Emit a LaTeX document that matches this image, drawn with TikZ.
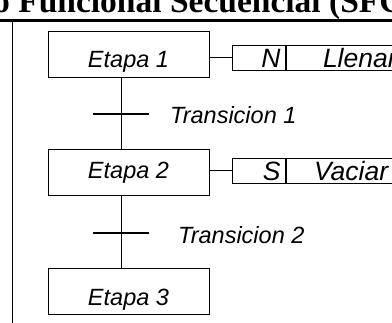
\documentclass[tikz,border=0pt]{standalone}
\usepackage{fontspec}
\setmainfont{Liberation Sans}
\newfontfamily\titlefont{Liberation Serif}
\begin{document}
\begin{tikzpicture}[x=1pt,y=-1pt,
  stepbox/.style={draw,line width=1pt,minimum width=161pt,minimum height=46pt,inner sep=0pt,font=\fontsize{23.5}{27}\selectfont\itshape},
  lowtext/.style={text height=#1,text depth=0pt},
  qualbox/.style={draw,line width=1pt,minimum width=53pt,minimum height=25pt,inner sep=0pt,font=\fontsize{26.5}{28}\selectfont\itshape},
  actbox/.style={draw,line width=1pt,minimum width=150pt,minimum height=25pt,inner sep=0pt,font=\fontsize{26.5}{28}\selectfont\itshape},
  link/.style={line width=1pt},
  bar/.style={line width=1.8pt},
  translabel/.style={anchor=west,inner sep=0pt,font=\fontsize{23.5}{26}\selectfont\itshape}]
\useasboundingbox (0,0) rectangle (392,323);
\clip (0,0) rectangle (392,323);
% title
\node[anchor=base west,inner sep=0pt,font=\fontsize{33.5}{37}\selectfont\titlefont\bfseries] (title) at (-7,12.5) {o Funcional Secuencial (SFC};
\draw[line width=3pt] (0,20.5) -- (392,20.5);
\draw[line width=1.2pt] (12.5,21) -- (12.5,323);
% steps
\node[stepbox,lowtext=26.8pt] (s1) at (128.5,54.5) {Etapa 1};
\node[stepbox] (s2) at (128.5,172.5) {Etapa 2};
\node[stepbox,lowtext=29pt] (s3) at (128.5,291.5) {Etapa 3};
% transitions
\coordinate (t1) at (121,114);
\coordinate (t2) at (121,233);
\draw[link] (s1.south -| t1) -- (s2.north -| t1);
\draw[link] (s2.south -| t2) -- (s3.north -| t2);
\draw[bar] ([xshift=-28pt]t1) -- ([xshift=28pt]t1);
\draw[bar] ([xshift=-28pt]t2) -- ([xshift=28pt]t2);
\node[translabel] (l1) at (170,115) {Transicion 1};
\node[translabel] (l2) at (178,235) {Transicion 2};
% actions
\node[qualbox,text width=44pt,align=right] (q1) at (258.5,58) {N\hspace*{8pt}};
\node[actbox,anchor=west,text width=144pt,align=left] (a1) at (q1.east) {\hspace*{34pt}Llenar};
\node[qualbox,text width=44pt,align=right] (q2) at (258.5,171) {S\hspace*{8pt}};
\node[actbox,anchor=west,text width=144pt,align=left] (a2) at (q2.east) {\hspace*{25pt}Vaciar};
\draw[link] (s1.east |- q1.west) -- (q1.west);
\draw[link] (s2.east |- q2.west) -- (q2.west);
\end{tikzpicture}
\end{document}
